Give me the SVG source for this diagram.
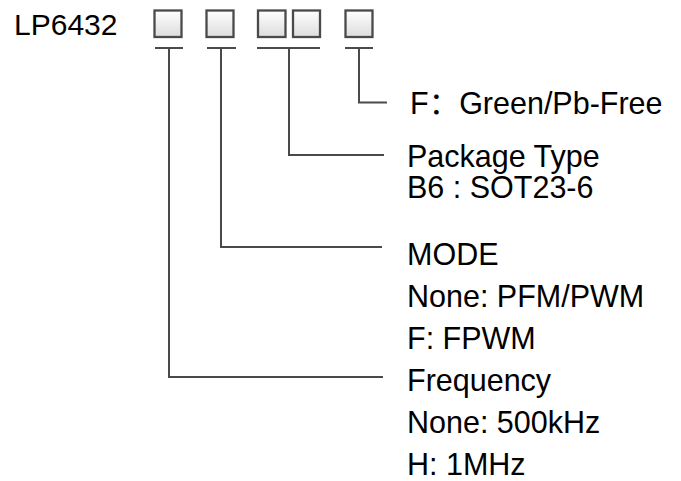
<svg xmlns="http://www.w3.org/2000/svg" width="681" height="481" viewBox="0 0 681 481">
<defs>
<linearGradient id="bg" x1="0" y1="0" x2="0" y2="1">
<stop offset="0" stop-color="#ffffff"/>
<stop offset="1" stop-color="#dcdcdc"/>
</linearGradient>
<style>
.box{fill:url(#bg);stroke:#4a4a4a;stroke-width:2.3}
.ln{fill:none;stroke:#4a4a4a;stroke-width:2}
text{font-family:"Liberation Sans","Noto Sans CJK SC",Arial,sans-serif;font-size:30.5px;fill:#000}
</style>
</defs>
<rect width="681" height="481" fill="#fff"/>
<g id="title"><text x="14" y="35" style="font-size:30px">LP6432</text></g>
<g id="box1"><rect class="box" x="154.5" y="10.5" width="27" height="26.5"/></g>
<g id="box2"><rect class="box" x="206.5" y="10.5" width="27" height="26.5"/></g>
<g id="box3"><rect class="box" x="258" y="10.5" width="27.5" height="26.5"/></g>
<g id="box4"><rect class="box" x="293" y="10.5" width="27" height="26.5"/></g>
<g id="box5"><rect class="box" x="345.5" y="10.5" width="27" height="26.5"/></g>
<g id="connectors">
<path class="ln" d="M155,48H183M169,48V377H383"/>
<path class="ln" d="M207,48H236M221,48V247H382"/>
<path class="ln" d="M257,48H320M289,48V155H384"/>
<path class="ln" d="M345,48H373M359,48V102.5H387"/>
</g>
<g id="label-f"><text x="410" y="114">F：Green/Pb-Free</text></g>
<g id="label-package"><text x="407" y="167">Package Type</text><text x="407" y="198">B6 : SOT23-6</text></g>
<g id="label-mode"><text x="407" y="265">MODE</text><text x="407" y="307">None: PFM/PWM</text><text x="407" y="349">F: FPWM</text></g>
<g id="label-freq"><text x="407" y="391">Frequency</text><text x="407" y="433">None: 500kHz</text><text x="407" y="475">H: 1MHz</text></g>
</svg>
